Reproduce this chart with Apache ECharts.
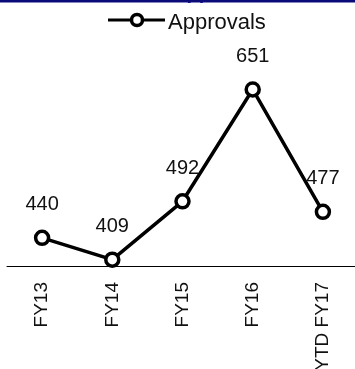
<!DOCTYPE html>
<html>
<head>
<meta charset="utf-8">
<script src="https://cdn.jsdelivr.net/npm/echarts@6/dist/echarts.min.js"></script>
<style>
  html, body { margin: 0; padding: 0; background: #fff; }
  #chart { width: 355px; height: 369px; }
</style>
</head>
<body>
<div id="chart"></div>
<script>
// Approvals by fiscal year
const categories = ['FY13', 'FY14', 'FY15', 'FY16', 'YTD FY17'];
const approvals = [440, 409, 492, 651, 477];
const seriesName = 'Approvals';
const titleText = 'Approvals';

const FONT = '"Liberation Sans", Arial, sans-serif';

const chart = echarts.init(document.getElementById('chart'), null, { renderer: 'canvas' });

chart.setOption({
  animation: false,
  backgroundColor: '#ffffff',
  graphic: [
    // header band along the top edge, with its title running off the page
    { type: 'rect', left: 0, top: 0, shape: { width: 355, height: 2.5 }, style: { fill: '#0a0a78' }, z: 10 },
    {
      type: 'text', x: 172, y: 3.5, z: 9,
      style: {
        text: titleText, fill: '#1a1aa0',
        font: 'bold 20px ' + FONT,
        verticalAlign: 'bottom', align: 'left'
      }
    },
    // legend key: line with a hollow marker, then the series name
    {
      type: 'group', x: 108, y: 20,
      children: [
        { type: 'line', shape: { x1: 0, y1: 0, x2: 57, y2: 0 }, style: { stroke: '#000', lineWidth: 3 } },
        { type: 'circle', shape: { cx: 29, cy: 0, r: 5.5 }, style: { fill: '#fff', stroke: '#000', lineWidth: 3.5 } },
        {
          type: 'text', x: 60, y: 3,
          style: { text: seriesName, font: '22px ' + FONT, fill: '#111', verticalAlign: 'middle', align: 'left' }
        }
      ]
    }
  ],
  grid: { left: 7, right: -3, top: 55, bottom: 103, outerBoundsMode: 'none', containLabel: false },
  xAxis: {
    type: 'category',
    data: categories,
    boundaryGap: true,
    axisLine: { show: true, lineStyle: { color: '#000', width: 1 } },
    axisTick: { show: false },
    axisLabel: {
      rotate: 90,
      margin: 16,
      interval: 0,
      fontFamily: FONT,
      fontSize: 19,
      color: '#111'
    },
    splitLine: { show: false }
  },
  yAxis: {
    type: 'value',
    min: 400,
    max: 700,
    show: false,
    splitLine: { show: false }
  },
  series: [{
    name: seriesName,
    type: 'line',
    data: approvals,
    symbol: 'circle',
    symbolSize: 13,
    lineStyle: { color: '#000', width: 3.5 },
    itemStyle: { color: '#fff', borderColor: '#000', borderWidth: 3.5 },
    label: {
      show: true,
      position: 'top',
      distance: 15,
      fontFamily: FONT,
      fontSize: 20,
      color: '#111'
    }
  }]
});
</script>
</body>
</html>
